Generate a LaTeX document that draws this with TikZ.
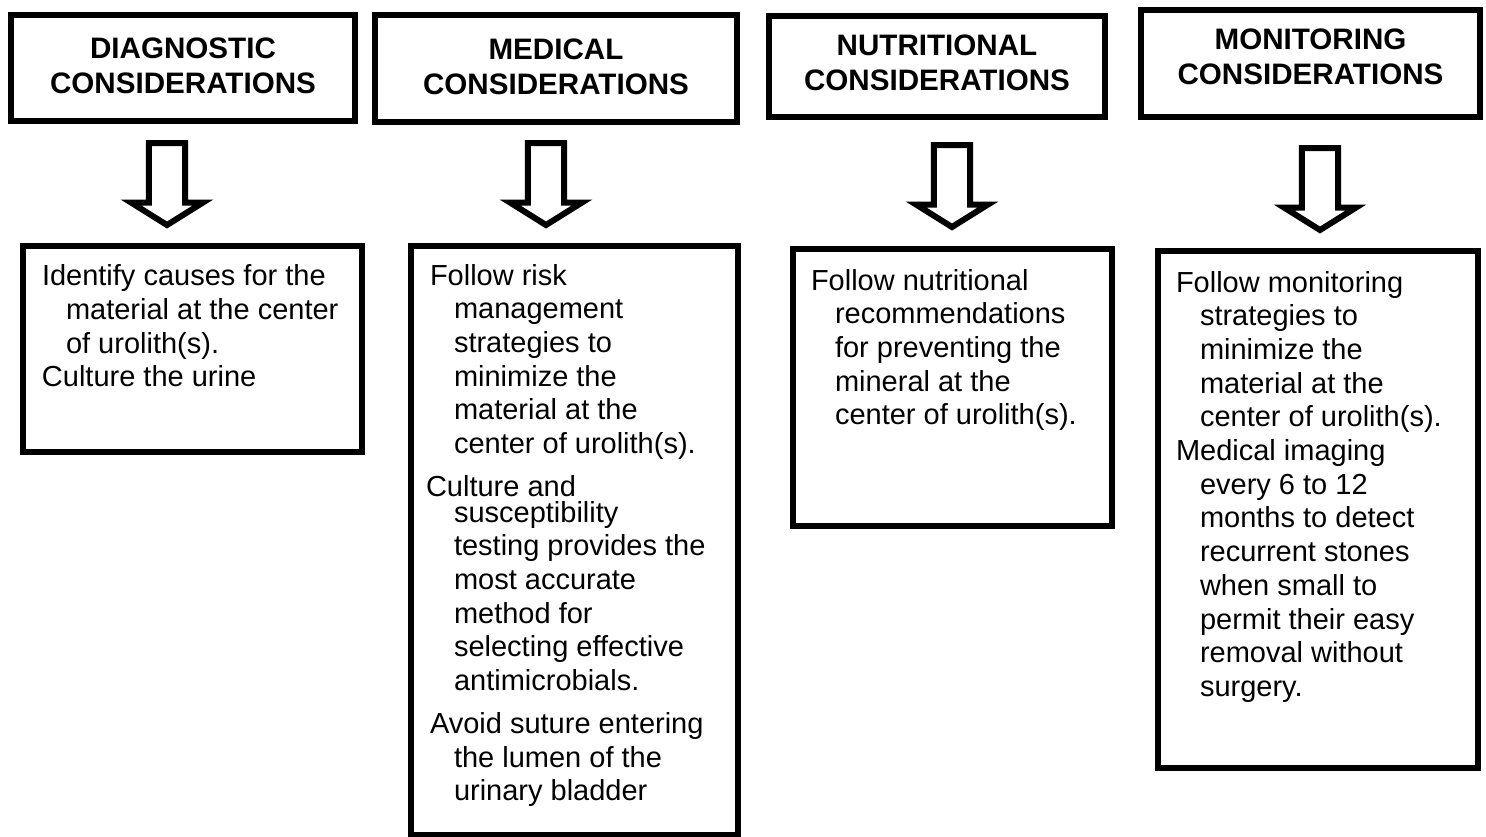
\documentclass[tikz,border=0pt]{standalone}
\usepackage{fontspec}
\setmainfont{Liberation Sans}
\usetikzlibrary{shapes.arrows}

% one paragraph whose lines after the first are pushed in
\newcommand{\hangpar}[1]{\hangindent=12pt\hangafter=1 #1\par}

\tikzset{
  headbox/.style={draw, line width=3pt, anchor=north west, inner sep=0pt,
                  font=\fontsize{14.8pt}{17.5pt}\selectfont\bfseries},
  bodybox/.style={draw, line width=3pt, anchor=north west, inner sep=0pt,
                  font=\fontsize{14.5pt}{16.85pt}\selectfont},
  hollowarrow/.style={single arrow, shape border rotate=270, draw, line width=3pt,
                  fill=white, inner sep=5.75pt, minimum width=36pt, minimum height=41pt,
                  single arrow tip angle=116, anchor=tail}
}

\begin{document}
\begin{tikzpicture}[x=0.5pt, y=-0.5pt]
\useasboundingbox (0,0) rectangle (1486,836);

% headings
\node[headbox] (diaghead) at (8,12)
  {\parbox[c][53pt][t]{172pt}{\centering\vspace*{11.4pt}DIAGNOSTIC\\CONSIDERATIONS}};
\node[headbox] (medhead) at (372,12)
  {\parbox[c][53.5pt][t]{181pt}{\centering\vspace*{11.7pt}MEDICAL\\CONSIDERATIONS}};
\node[headbox] (nutrhead) at (766,13)
  {\parbox[c][50.5pt][t]{168pt}{\centering\vspace*{9.2pt}NUTRITIONAL\\CONSIDERATIONS}};
\node[headbox] (monhead) at (1138,7)
  {\parbox[c][53.5pt][t]{169.5pt}{\centering\vspace*{9.2pt}MONITORING\\CONSIDERATIONS}};

% arrows
\node[hollowarrow] (diagarrow) at (167,140) {};
\node[hollowarrow] (medarrow) at (546,140) {};
\node[hollowarrow] (nutrarrow) at (952,142) {};
\node[hollowarrow] (monarrow) at (1320,145) {};

% contents
\node[bodybox] (diagbody) at (20,243)
  {\parbox[c][103pt][t]{169.5pt}{\raggedright\leftskip=9.5pt\vspace*{9.4pt}%
   \hangpar{Identify causes for the\newline material at the center\newline of urolith(s).}%
   \hangpar{Culture the urine}}};
\node[bodybox] (medbody) at (408,243)
  {\parbox[c][294.5pt][t]{163.5pt}{\raggedright\leftskip=9.5pt\vspace*{9pt}%
   \hangpar{Follow risk\newline management\newline strategies to\newline minimize the\newline material at the\newline center of urolith(s).}%
   \vspace{4.5pt}%
   \hspace*{-2pt}Culture and\par\vspace{-3.9pt}%
   {\hangindent=12pt\hangafter=0 susceptibility\newline testing provides the\newline most accurate\newline method for\newline selecting effective\newline antimicrobials.\par}%
   \vspace{4.5pt}%
   \hangpar{Avoid suture entering\newline the lumen of the\newline urinary bladder}}};
\node[bodybox] (nutrbody) at (790,246)
  {\parbox[c][138.5pt][t]{159.5pt}{\raggedright\leftskip=9pt\vspace*{10pt}%
   \hangpar{Follow nutritional\newline recommendations\newline for preventing the\newline mineral at the\newline center of urolith(s).}}};
\node[bodybox] (monbody) at (1155,248)
  {\parbox[c][258.5pt][t]{160pt}{\raggedright\leftskip=9pt\vspace*{10pt}%
   \hangpar{Follow monitoring\newline strategies to\newline minimize the\newline material at the\newline center of urolith(s).}%
   \hangpar{Medical imaging\newline every 6 to 12\newline months to detect\newline recurrent stones\newline when small to\newline permit their easy\newline removal without\newline surgery.}}};
\end{tikzpicture}
\end{document}
